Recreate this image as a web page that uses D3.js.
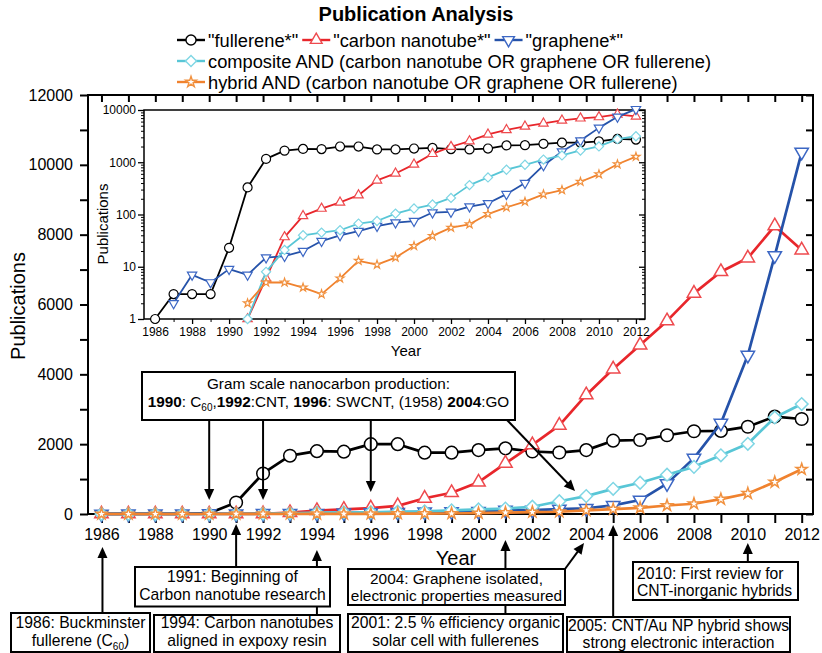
<!DOCTYPE html>
<html>
<head>
<meta charset="utf-8">
<script src="https://cdn.jsdelivr.net/npm/d3@7"></script>
<style>
  body { margin: 0; background: #fff; }
  svg { display: block; font-family: "Liberation Sans", Arial, sans-serif; }
</style>
</head>
<body>
<svg id="chart" width="822" height="653"></svg>
<script>
// Publication counts per year, 1986–2012
const years = [1986, 1987, 1988, 1989, 1990, 1991, 1992, 1993, 1994, 1995, 1996, 1997, 1998, 1999,
               2000, 2001, 2002, 2003, 2004, 2005, 2006, 2007, 2008, 2009, 2010, 2011, 2012];
const fullerene = [1, 3, 3, 3, 23, 330, 1160, 1670, 1800, 1785, 2000, 2000, 1757, 1757,
                   1830, 1880, 1790, 1760, 1830, 2100, 2120, 2255, 2370, 2380, 2500, 2790, 2720];
const nanotube  = [0, 0, 0, 0, 0, 1, 6, 37, 94, 130, 170, 234, 450, 610,
                   910, 1450, 1980, 2540, 3410, 4150, 4840, 5530, 6320, 6940, 7330, 8250, 7560];
const graphene  = [0, 2, 7, 5, 9, 7, 15, 16, 20, 31, 40, 48, 60, 70,
                   75, 109, 112, 142, 164, 245, 400, 870, 1600, 2600, 4550, 7400, 10364];
const composite = [0, 0, 0, 0, 0, 1, 8, 21, 40, 45, 50, 67, 75, 104,
                   130, 155, 208, 365, 512, 720, 895, 1125, 1350, 1680, 2010, 2765, 3150];
const hybrid    = [0, 0, 0, 0, 0, 2, 5, 5, 4, 3, 6, 13, 11, 15,
                   25, 39, 56, 65, 102, 137, 176, 243, 294, 424, 588, 914, 1280];

// Axis ticks
const linearTicks = [0, 1000, 2000, 3000, 4000, 5000, 6000, 7000, 8000, 9000, 10000, 11000, 12000];
const logMajorTicks = [1, 10, 100, 1000, 10000];

const seriesNames = ['"fullerene*"', '"carbon nanotube*"', '"graphene*"',
  'composite AND (carbon nanotube OR graphene OR fullerene)',
  'hybrid AND (carbon nanotube OR graphene OR fullerene)'];

// Styling for each series (line colour, marker outline, marker shape)
const styles = [
  { line: "#000000", mark: "#000000", shape: "circle" },
  { line: "#e8262b", mark: "#ee4a4e", shape: "up" },
  { line: "#2552a9", mark: "#3c67c4", shape: "down" },
  { line: "#58c6d6", mark: "#7fd6e4", shape: "diamond" },
  { line: "#f0822e", mark: "#f1913f", shape: "star" }
];
const seriesValues = [fullerene, nanotube, graphene, composite, hybrid];
const series = seriesNames.map((name, i) => ({
  name, style: styles[i],
  points: years.map((yr, j) => ({ year: yr, v: seriesValues[i][j] }))
}));

const svg = d3.select("#chart");
svg.append("rect").attr("width", 822).attr("height", 653).attr("fill", "#fff");

// ---------- marker helper ----------
function markerPath(shape, s) {
  switch (shape) {
    case "circle":  return d3.symbol(d3.symbolCircle, s.circle)();
    case "up":      return d3.symbol(d3.symbolTriangle, s.tri)();
    case "down":    return d3.symbol(d3.symbolTriangle, s.tri)();
    case "diamond": return d3.symbol(d3.symbolSquare, s.dia)();
    case "star":    return d3.symbol(d3.symbolStar, s.star)();
  }
}
function markerRot(shape) {
  return shape === "down" ? 180 : shape === "diamond" ? 45 : 0;
}
function drawMarkers(g, pts, st, xs, ys, sizes, width) {
  g.selectAll(null).data(pts).enter().append("path")
    .attr("d", markerPath(st.shape, sizes))
    .attr("transform", d => `translate(${xs(d.year)},${ys(d.v)}) rotate(${markerRot(st.shape)})`)
    .attr("fill", "#fff")
    .attr("stroke", st.mark)
    .attr("stroke-width", width);
}

// ---------- main (linear) panel ----------
const M = { left: 88, right: 813, top: 95, bottom: 514 };
const x = d3.scaleLinear().domain([1985.5, 2012.42]).range([M.left, M.right]);
const y = d3.scaleLinear().domain([0, 12000]).range([M.bottom, M.top]);

function styleAxis(g, fontSize, w) {
  g.select(".domain").remove();
  g.selectAll(".tick line").attr("stroke", "#000").attr("stroke-width", w);
  g.selectAll(".tick text").attr("fill", "#000").attr("font-size", fontSize)
    .attr("font-family", '"Liberation Sans", Arial, sans-serif');
}

const gxB = svg.append("g").attr("transform", `translate(0,${M.bottom})`)
  .call(d3.axisBottom(x).tickValues(years).tickFormat(d => d % 2 === 0 ? d : "")
        .tickSize(9).tickPadding(6).tickSizeOuter(0));
styleAxis(gxB, 16, 2);

const gxT = svg.append("g").attr("transform", `translate(0,${M.top})`)
  .call(d3.axisTop(x).tickValues(years).tickFormat("").tickSize(-7).tickSizeOuter(0));
styleAxis(gxT, 16, 2);

const gyL = svg.append("g").attr("transform", `translate(${M.left},0)`)
  .call(d3.axisLeft(y).tickValues(linearTicks).tickFormat(d => d % 2000 === 0 ? d : "")
        .tickSize(8).tickPadding(7).tickSizeOuter(0));
styleAxis(gyL, 16, 2);

const gyR = svg.append("g").attr("transform", `translate(${M.right},0)`)
  .call(d3.axisRight(y).tickValues(linearTicks).tickFormat("").tickSize(-7).tickSizeOuter(0));
styleAxis(gyR, 16, 2);

svg.append("rect").attr("x", M.left).attr("y", M.top)
  .attr("width", M.right - M.left).attr("height", M.bottom - M.top)
  .attr("fill", "none").attr("stroke", "#000").attr("stroke-width", 2);

svg.append("text").attr("transform", `translate(25,306) rotate(-90)`)
  .attr("text-anchor", "middle").attr("font-size", 20).text("Publications");
svg.append("text").attr("x", 456).attr("y", 565)
  .attr("text-anchor", "middle").attr("font-size", 20).text("Year");

const mainLine = d3.line().x(d => x(d.year)).y(d => y(d.v));
const mainSizes = { circle: 125, tri: 78, dia: 80, star: 40 };
const gMain = svg.append("g");
series.forEach((s, i) => {
  gMain.append("path").attr("d", mainLine(s.points))
    .attr("fill", "none").attr("stroke", s.style.line).attr("stroke-width", 2.7)
    .attr("stroke-linejoin", "round");
  // the fullerene circles are only shown once the curve leaves the baseline
  const pts = i === 0 ? s.points.filter(d => d.year >= 1991) : s.points;
  drawMarkers(gMain, pts, s.style, x, y, mainSizes, 1.5);
});

// ---------- inset (log) panel ----------
const I = { left: 144, right: 645, top: 110, bottom: 319 };
const xi = d3.scaleLinear().domain([1985.4, 2012.49]).range([I.left, I.right]);
const yi = d3.scaleLog().domain([1, 10000]).range([I.bottom, I.top]);

svg.append("rect").attr("x", I.left).attr("y", I.top)
  .attr("width", I.right - I.left).attr("height", I.bottom - I.top)
  .attr("fill", "#fff");

const minorLog = yi.ticks().filter(d => !logMajorTicks.includes(d));
const evenYears = years.filter(d => d % 2 === 0);
const oddYears = years.filter(d => d % 2 !== 0);

const giL = svg.append("g").attr("transform", `translate(${I.left},0)`)
  .call(d3.axisLeft(yi).tickValues(logMajorTicks).tickFormat(d3.format("d")).tickSize(6).tickPadding(2).tickSizeOuter(0));
styleAxis(giL, 12, 1.3);
const giLm = svg.append("g").attr("transform", `translate(${I.left},0)`)
  .call(d3.axisLeft(yi).tickValues(minorLog).tickFormat("").tickSize(3).tickSizeOuter(0));
styleAxis(giLm, 12, 1);
const giR = svg.append("g").attr("transform", `translate(${I.right},0)`)
  .call(d3.axisRight(yi).tickValues(logMajorTicks).tickFormat("").tickSize(-6).tickSizeOuter(0));
styleAxis(giR, 12, 1.3);
const giRm = svg.append("g").attr("transform", `translate(${I.right},0)`)
  .call(d3.axisRight(yi).tickValues(minorLog).tickFormat("").tickSize(-3).tickSizeOuter(0));
styleAxis(giRm, 12, 1);
const giB = svg.append("g").attr("transform", `translate(0,${I.bottom})`)
  .call(d3.axisBottom(xi).tickValues(evenYears).tickFormat(d3.format("d")).tickSize(5).tickPadding(3).tickSizeOuter(0));
styleAxis(giB, 12, 1.3);
const giBm = svg.append("g").attr("transform", `translate(0,${I.bottom})`)
  .call(d3.axisBottom(xi).tickValues(oddYears).tickFormat("").tickSize(3).tickSizeOuter(0));
styleAxis(giBm, 12, 1);

svg.append("rect").attr("x", I.left).attr("y", I.top)
  .attr("width", I.right - I.left).attr("height", I.bottom - I.top)
  .attr("fill", "none").attr("stroke", "#000").attr("stroke-width", 1.5);

svg.append("text").attr("transform", `translate(108,224) rotate(-90)`)
  .attr("text-anchor", "middle").attr("font-size", 15).text("Publications");
svg.append("text").attr("x", 406).attr("y", 356)
  .attr("text-anchor", "middle").attr("font-size", 15).text("Year");

const insetLine = d3.line().defined(d => d.v > 0).x(d => xi(d.year)).y(d => yi(d.v));
const insetSizes = { circle: 64, tri: 38, dia: 42, star: 21 };
const gIn = svg.append("g");
series.forEach(s => {
  const pts = s.points.filter(d => d.v > 0);
  gIn.append("path").attr("d", insetLine(pts))
    .attr("fill", "none").attr("stroke", s.style.line).attr("stroke-width", 1.8)
    .attr("stroke-linejoin", "round");
  drawMarkers(gIn, pts, s.style, xi, yi, insetSizes, 1.2);
});

// ---------- title and legend ----------
svg.append("text").attr("x", 416).attr("y", 21).attr("text-anchor", "middle")
  .attr("font-size", 20).attr("font-weight", "bold").text("Publication Analysis");

const legendRows = [[0, 1, 2], [3], [4]];
const legendSizes = { circle: 80, tri: 60, dia: 60, star: 36 };
const gLeg = svg.append("g");
const legFont = 18.3, legLine = 28;
legendRows.forEach((row, ri) => {
  const ly = 40 + ri * 21;
  let cx = 177;
  row.forEach(idx => {
    const s = series[idx];
    gLeg.append("line").attr("x1", cx).attr("x2", cx + legLine).attr("y1", ly).attr("y2", ly)
      .attr("stroke", s.style.line).attr("stroke-width", 2.4);
    gLeg.append("path").attr("d", markerPath(s.style.shape, legendSizes))
      .attr("transform", `translate(${cx + legLine / 2},${ly}) rotate(${markerRot(s.style.shape)})`)
      .attr("fill", "#fff").attr("stroke", s.style.mark).attr("stroke-width", 1.4);
    const t = gLeg.append("text").attr("x", cx + legLine + 3).attr("y", ly + 6.5)
      .attr("font-size", legFont).text(s.name);
    cx += legLine + 3 + t.node().getComputedTextLength() + 4;
  });
});

// ---------- annotations ----------
function arrow(g, x1, y1, x2, y2) {
  const head = 11, half = 5;
  const dx = x2 - x1, dy = y2 - y1, L = Math.hypot(dx, dy), ux = dx / L, uy = dy / L;
  const bx = x2 - ux * head, by = y2 - uy * head;
  g.append("line").attr("x1", x1).attr("y1", y1).attr("x2", bx + ux).attr("y2", by + uy)
    .attr("stroke", "#000").attr("stroke-width", 2);
  g.append("path")
    .attr("d", `M${x2},${y2}L${bx - uy * half},${by + ux * half}L${bx + uy * half},${by - ux * half}Z`)
    .attr("fill", "#000");
}

// each line is a list of [text, kind] runs: kind "b" bold, "sub" subscript
const notes = [
  { box: [11, 613, 150, 652], anchor: "middle", base: [627.5, 645.5], size: 15.7,
    lines: [[["1986: Buckminster"]], [["fullerene (C"], ["60", "sub"], [")"]]] },
  { box: [135, 567, 330, 606.5], anchor: "middle", base: [582, 600], size: 15.7,
    lines: [[["1991: Beginning of"]], [["Carbon nanotube research"]]] },
  { box: [154, 615, 340, 652], anchor: "middle", base: [628, 646], size: 15.7,
    lines: [[["1994: Carbon nanotubes"]], [["aligned in expoxy resin"]]] },
  { box: [348, 569, 565, 605], anchor: "middle", base: [584, 601], size: 15.4,
    lines: [[["2004: Graphene isolated,"]], [["electronic properties measured"]]] },
  { box: [348, 614, 563, 652], anchor: "middle", base: [628, 646], size: 15.7,
    lines: [[["2001: 2.5 % efficiency organic"]], [["solar cell with fullerenes"]]] },
  { box: [567, 617, 790, 652], anchor: "middle", base: [631, 648], size: 15.7,
    lines: [[["2005: CNT/Au NP hybrid shows"]], [["strong electronic interaction"]]] },
  { box: [633, 562, 798, 600], anchor: "start", base: [579, 596], size: 15.7,
    lines: [[["2010: First review for"]], [["CNT-inorganic hybrids"]]] },
  { box: [142, 372, 515, 420], anchor: "middle", base: [389, 407], size: 15.3,
    lines: [[["Gram scale nanocarbon production:"]],
            [["1990", "b"], [": C"], ["60", "sub"], [","], ["1992", "b"], [":CNT, "], ["1996", "b"],
             [": SWCNT, (1958) "], ["2004", "b"], [":GO"]]] }
];

const gAnn = svg.append("g");
// arrows whose shafts run behind a box
arrow(gAnn, x(1994), 615, x(1994), 550);
arrow(gAnn, x(2001), 614, x(2001), 540);

function drawNote(n) {
  const [x0, y0, x1, y1] = n.box;
  gAnn.append("rect").attr("x", x0).attr("y", y0).attr("width", x1 - x0).attr("height", y1 - y0)
    .attr("fill", "#fff").attr("stroke", "#000").attr("stroke-width", 2);
  n.lines.forEach((runs, li) => {
    const t = gAnn.append("text").attr("font-size", n.size).attr("text-anchor", n.anchor)
      .attr("x", n.anchor === "start" ? x0 + 4 : (x0 + x1) / 2).attr("y", n.base[li]);
    let shifted = false;
    runs.forEach(([txt, kind]) => {
      const ts = t.append("tspan").text(txt);
      if (kind === "b") ts.attr("font-weight", "bold");
      if (kind === "sub") { ts.attr("font-size", 10).attr("dy", 4); shifted = true; }
      else if (shifted) { ts.attr("dy", -4); shifted = false; }
    });
  });
}
notes.forEach(drawNote);

// pointers from the boxes to the axis
arrow(gAnn, x(1986) + 1, 613, x(1986) + 1, 547);
arrow(gAnn, x(1991), 567, x(1991), 524);
arrow(gAnn, 565, 569, 584, 543);
arrow(gAnn, x(2005), 617, x(2005), 525);
arrow(gAnn, x(2010), 562, x(2010), 543);

// pointers from the production box into the plot
arrow(gAnn, x(1990), 420, x(1990), 500);
arrow(gAnn, x(1992), 420, x(1992), 500);
arrow(gAnn, x(1996), 420, x(1996), 492);
arrow(gAnn, 507, 420, 575, 491);
</script>
</body>
</html>
